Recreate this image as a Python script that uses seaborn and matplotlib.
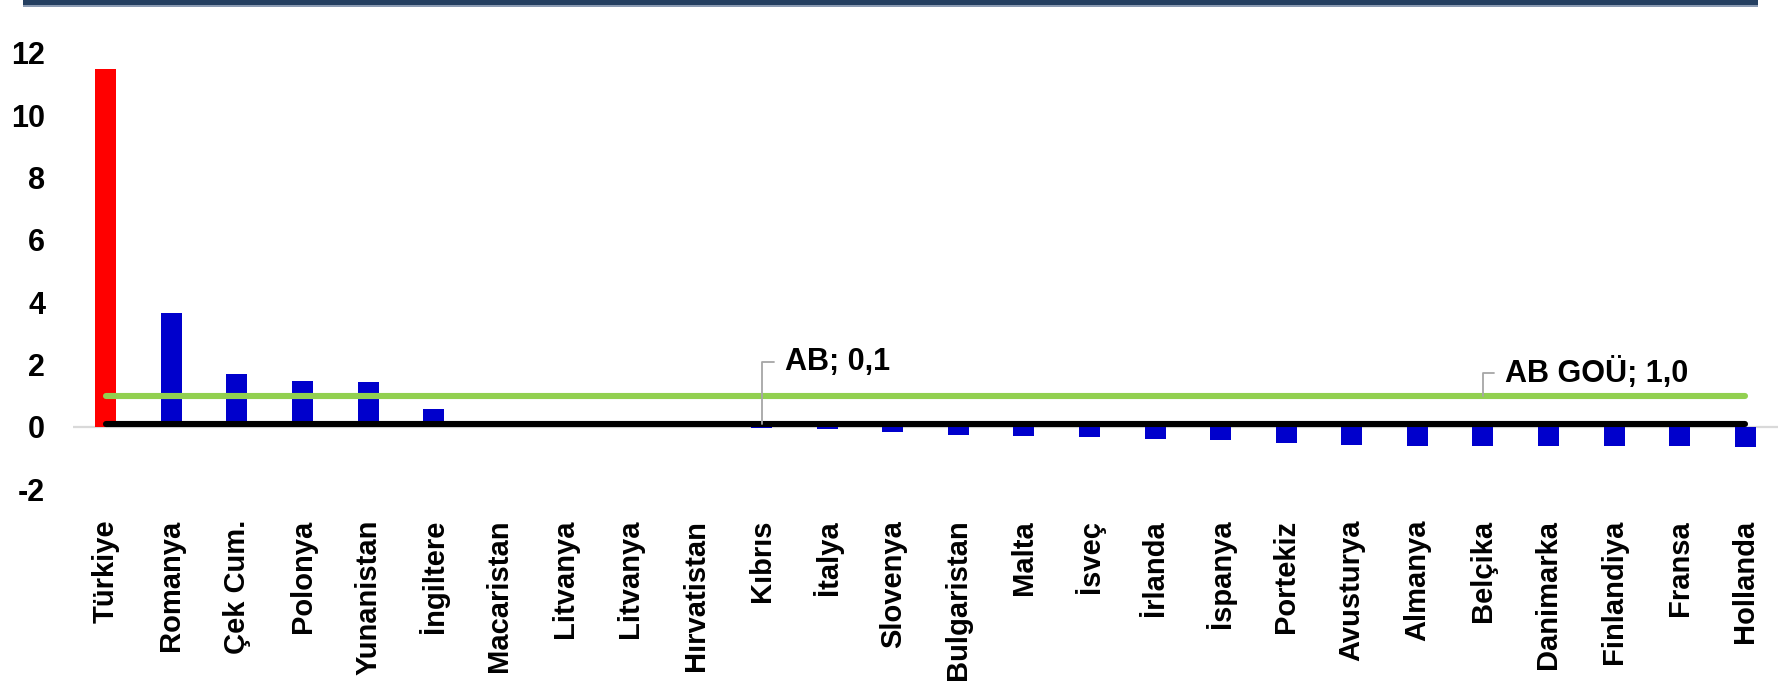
import matplotlib
matplotlib.use("Agg")
import matplotlib.pyplot as plt
import seaborn as sns
import pandas as pd
from matplotlib.patches import Rectangle

# ---- data ----
countries = ["Türkiye", "Romanya", "Çek Cum.", "Polonya", "Yunanistan", "İngiltere",
             "Macaristan", "Litvanya", "Litvanya", "Hırvatistan", "Kıbrıs", "İtalya",
             "Slovenya", "Bulgaristan", "Malta", "İsveç", "İrlanda", "İspanya",
             "Portekiz", "Avusturya", "Almanya", "Belçika", "Danimarka", "Finlandiya",
             "Fransa", "Hollanda"]
values = [11.5, 3.65, 1.70, 1.47, 1.44, 0.58,
          0.15, 0.10, 0.10, 0.05, -0.03, -0.06,
          -0.16, -0.27, -0.28, -0.33, -0.39, -0.41,
          -0.53, -0.57, -0.61, -0.61, -0.62, -0.62,
          -0.62, -0.63]
ab = [0.1, 0.1, 0.1, 0.1, 0.1, 0.1, 0.1, 0.1, 0.1, 0.1, 0.1, 0.1, 0.1,
      0.1, 0.1, 0.1, 0.1, 0.1, 0.1, 0.1, 0.1, 0.1, 0.1, 0.1, 0.1, 0.1]
ab_gou = [1.0, 1.0, 1.0, 1.0, 1.0, 1.0, 1.0, 1.0, 1.0, 1.0, 1.0, 1.0, 1.0,
          1.0, 1.0, 1.0, 1.0, 1.0, 1.0, 1.0, 1.0, 1.0, 1.0, 1.0, 1.0, 1.0]
yticks = [-2, 0, 2, 4, 6, 8, 10, 12]
highlight = "Türkiye"
ab_label = "AB; 0,1"
ab_gou_label = "AB GOÜ; 1,0"

# ---- style ----
sns.set_style("white")
plt.rcParams["font.family"] = ["Liberation Sans", "DejaVu Sans"]
plt.rcParams["font.weight"] = "bold"
plt.rcParams["text.color"] = "black"
plt.rcParams["xtick.color"] = "black"
plt.rcParams["ytick.color"] = "black"
plt.rcParams["axes.labelcolor"] = "black"

W, H = 1783, 686
fig = plt.figure(figsize=(W / 100, H / 100), dpi=100)
left, right, top, bottom = 73, 1778, 53, 489.3
ax = fig.add_axes([left / W, 1 - bottom / H, (right - left) / W, (bottom - top) / H])

pos = list(range(len(countries)))
df = pd.DataFrame({"pos": pos, "country": countries, "value": values})
palette = {p: ("#FF0000" if c == highlight else "#0000CC") for p, c in zip(pos, countries)}

sns.barplot(data=df, x="pos", y="value", hue="pos", palette=palette, width=0.32,
            saturation=1, legend=False, linewidth=0, ax=ax, zorder=2)

ax.axhline(0, color="#D9D9D9", lw=1.6, zorder=1)

sns.lineplot(x=pos, y=ab_gou, ax=ax, color="#92D050", lw=4.4,
             solid_capstyle="round", zorder=3)
sns.lineplot(x=pos, y=ab, ax=ax, color="black", lw=4.4,
             solid_capstyle="round", zorder=4)

ax.set_xlim(-0.5, len(countries) - 0.5)
ax.set_ylim(-2, 12)
ax.set_yticks(yticks)
ax.set_yticklabels([str(t) for t in yticks], fontsize=22, fontweight="bold", color="black")
ax.set_xticks(pos)
ax.set_xticklabels(countries, rotation=90, fontsize=21, fontweight="bold",
                   va="top", ha="center", color="black")
ax.tick_params(axis="y", length=0, pad=20, colors="black")
ax.tick_params(axis="x", length=0, pad=22, colors="black")
ax.set_xlabel("")
ax.set_ylabel("")
for s in ax.spines.values():
    s.set_visible(False)
ax.grid(False)

arrow_kw = dict(arrowstyle="-", color="#A6A6A6", lw=1.3,
                connectionstyle="angle,angleA=0,angleB=90,rad=0",
                relpos=(0, 0.5), shrinkA=5, shrinkB=0)
ax.annotate(ab_label, xy=(10, ab[10]), xytext=(10.35, 2.09), ha="left", va="center",
            fontsize=22, fontweight="bold", color="black", arrowprops=arrow_kw, zorder=5)
ax.annotate(ab_gou_label, xy=(21, ab_gou[21]), xytext=(21.33, 1.73), ha="left",
            va="center", fontsize=22, fontweight="bold", color="black",
            arrowprops=arrow_kw, zorder=5)

# top banner
fig.add_artist(Rectangle((23 / W, 1 - 5 / H), (1758 - 23) / W, 5 / H,
                         transform=fig.transFigure, color="#243F60", lw=0))
fig.add_artist(Rectangle((23 / W, 1 - 6.5 / H), (1758 - 23) / W, 1.5 / H,
                         transform=fig.transFigure, color="#8A9AB2", lw=0))

fig.savefig("out.png", dpi=100)
